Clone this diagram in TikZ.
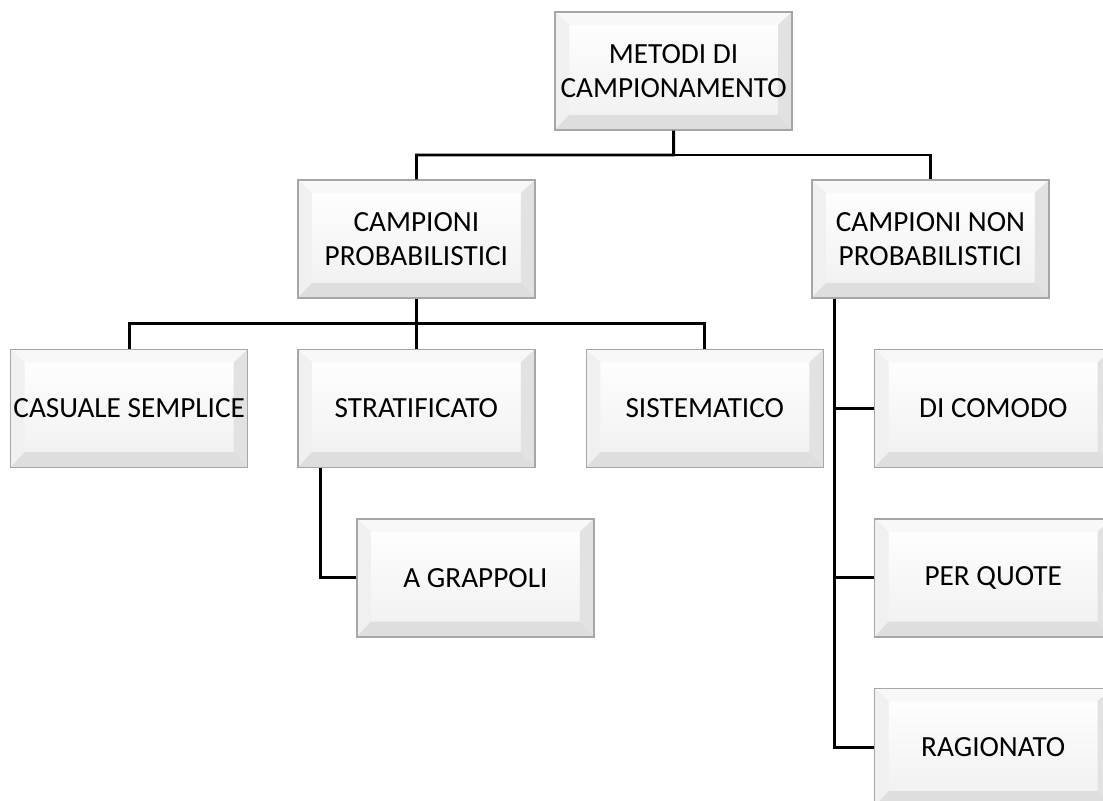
\documentclass[tikz,border=0pt]{standalone}
\usepackage{fontspec}
\setmainfont{Carlito}
\usetikzlibrary{positioning, calc}
\definecolor{boxedge}{HTML}{A6A6A6}
\definecolor{boxface}{HTML}{F0F0F0}
\definecolor{bevtop}{HTML}{F8F8F8}
\definecolor{bevleft}{HTML}{F0F0F0}
\definecolor{bevright}{HTML}{E2E2E2}
\definecolor{bevbottom}{HTML}{DEDEDE}

\begin{document}
\begin{tikzpicture}[
  node distance=1.25cm,
  box/.style={draw=boxedge, line width=1pt, minimum width=5.925cm, minimum height=2.95cm,
    inner sep=0pt, align=center, font=\fontsize{20.8}{24}\selectfont,
    top color=white, bottom color=boxface,
    path picture={
      \fill[bevtop] (path picture bounding box.north west) -- (path picture bounding box.north east)
        -- ([shift={(-0.35,-0.32)}]path picture bounding box.north east)
        -- ([shift={(0.35,-0.32)}]path picture bounding box.north west) -- cycle;
      \fill[bevleft] (path picture bounding box.north west) -- (path picture bounding box.south west)
        -- ([shift={(0.35,0.38)}]path picture bounding box.south west)
        -- ([shift={(0.35,-0.32)}]path picture bounding box.north west) -- cycle;
      \fill[bevright] (path picture bounding box.north east) -- (path picture bounding box.south east)
        -- ([shift={(-0.35,0.38)}]path picture bounding box.south east)
        -- ([shift={(-0.35,-0.32)}]path picture bounding box.north east) -- cycle;
      \fill[bevbottom] (path picture bounding box.south west) -- (path picture bounding box.south east)
        -- ([shift={(-0.35,0.38)}]path picture bounding box.south east)
        -- ([shift={(0.35,0.38)}]path picture bounding box.south west) -- cycle;
    }},
  link/.style={draw=black, line width=2pt}
]
  \useasboundingbox (0,0) rectangle (27.575,-20);

  % top level
  \node[box] (root) at (16.84,-1.775) {METODI DI\\CAMPIONAMENTO};
  \node[box] (prob) at (10.41,-5.975) {CAMPIONI\\PROBABILISTICI};
  \node[box] (nonprob) at (23.26,-5.975) {CAMPIONI NON\\PROBABILISTICI};

  % probabilistici
  \node[box, below=of prob] (strat) {STRATIFICATO};
  \node[box, left=1.22cm of strat] (casuale) {CASUALE SEMPLICE};
  \node[box, right=of strat] (sist) {SISTEMATICO};
  \node[box, below=of strat, xshift=1.475cm] (grappoli) {A GRAPPOLI};

  % non probabilistici
  \node[box, right=of sist] (comodo) {DI COMODO};
  \node[box, below=of comodo] (quote) {PER QUOTE};
  \node[box, below=of quote] (ragionato) {RAGIONATO};

  % connectors
  \coordinate (rootbus) at ($(root.south)!.5!(root.south |- prob.north)$);
  \draw[link] (root.south) -- (rootbus) -| (prob.north);
  \draw[link] (rootbus) -| (nonprob.north);
  \coordinate (probbus) at ($(prob.south)!.5!(strat.north)$);
  \draw[link] (prob.south) -- (strat.north);
  \draw[link] (probbus) -| (casuale.north);
  \draw[link] (probbus) -| (sist.north);
  \draw[link] ([xshift=0.575cm]strat.south west) |- (grappoli.west);
  \foreach \n in {comodo, quote, ragionato}
    \draw[link] ([xshift=0.575cm]nonprob.south west) |- (\n.west);
\end{tikzpicture}
\end{document}
